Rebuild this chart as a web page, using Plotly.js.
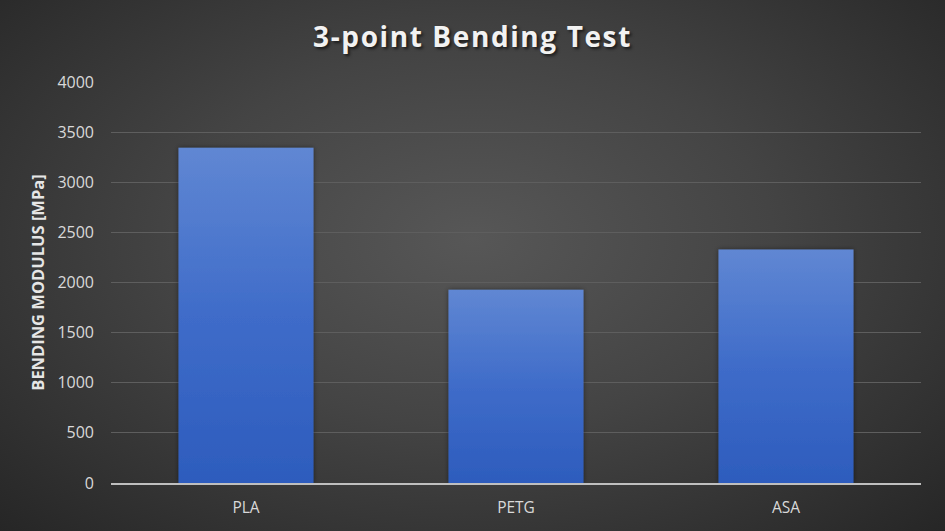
<!DOCTYPE html>
<html>
<head>
<meta charset="utf-8">
<script src="https://cdn.plot.ly/plotly-3.0.1.min.js"></script>
<style>
  html, body { margin: 0; padding: 0; }
  body {
    width: 945px; height: 531px; overflow: hidden;
    background: radial-gradient(ellipse at 50% 45%, #575757 0%, #444444 45%, #262626 100%);
  }
  #chart { width: 945px; height: 531px; }
  .gtitle { letter-spacing: 1.6px; }
</style>
</head>
<body>
<div id="chart"></div>
<script>
// materials tested and measured bending modulus (MPa)
var materials = ['PLA', 'PETG', 'ASA'];
var modulus = [3345, 1928, 2328];
var yTicks = [0, 500, 1000, 1500, 2000, 2500, 3000, 3500, 4000];

var data = [{
  type: 'bar',
  x: materials,
  y: modulus,
  marker: { color: '#4a74cc', line: { width: 0 } },
  hoverinfo: 'x+y'
}];

var layout = {
  width: 945, height: 531,
  margin: { l: 111, r: 24, t: 82, b: 48 },
  paper_bgcolor: 'rgba(0,0,0,0)',
  plot_bgcolor: 'rgba(0,0,0,0)',
  bargap: 0.5,
  showlegend: false,
  title: {
    text: '3-point Bending Test',
    x: 0.5, xanchor: 'center', y: 0.93, yanchor: 'middle',
    font: { family: '"Open Sans", Lato, sans-serif', size: 28, color: '#f2f2f2', weight: 'bold',
            shadow: '2px 2px 3px rgba(0,0,0,0.6)' }
  },
  xaxis: {
    tickfont: { family: '"Open Sans", Lato, sans-serif', size: 15.5, color: '#d9d9d9' },
    showgrid: false, showline: true, linecolor: '#bfbfbf', linewidth: 1.5,
    ticks: '', ticklabelstandoff: 10
  },
  yaxis: {
    range: [0, 4000],
    tickvals: yTicks,
    ticktext: yTicks.map(String),
    tickfont: { family: '"Open Sans", Lato, sans-serif', size: 16, color: '#d9d9d9' },
    showgrid: true, gridcolor: '#5e5e5e', gridwidth: 1,
    zeroline: false, showline: false, ticks: '',
    ticklabelstandoff: 16,
    title: {
      text: 'BENDING MODULUS [MPa]',
      font: { family: '"Open Sans", Lato, sans-serif', size: 16.5, color: '#e6e6e6', weight: 'bold' },
      standoff: 8
    }
  }
};

Plotly.newPlot('chart', data, layout, { displayModeBar: false, staticPlot: true }).then(function (gd) {
  // vertical gradient on the bars, like the Excel fill
  var svg = gd.querySelector('svg.main-svg');
  var ns = 'http://www.w3.org/2000/svg';
  var defs = svg.querySelector('defs') || svg.insertBefore(document.createElementNS(ns, 'defs'), svg.firstChild);
  var grad = document.createElementNS(ns, 'linearGradient');
  grad.setAttribute('id', 'barGrad');
  grad.setAttribute('x1', '0'); grad.setAttribute('y1', '0');
  grad.setAttribute('x2', '0'); grad.setAttribute('y2', '1');
  [['0', '#6087d3'], ['0.5', '#3f6cc9'], ['1', '#2d5cbd']].forEach(function (s) {
    var st = document.createElementNS(ns, 'stop');
    st.setAttribute('offset', s[0]); st.setAttribute('stop-color', s[1]);
    grad.appendChild(st);
  });
  defs.appendChild(grad);
  var filt = document.createElementNS(ns, 'filter');
  filt.setAttribute('id', 'barShadow');
  filt.setAttribute('x', '-10%'); filt.setAttribute('y', '-10%');
  filt.setAttribute('width', '120%'); filt.setAttribute('height', '120%');
  filt.innerHTML = '<feDropShadow dx="0" dy="0" stdDeviation="2.5" flood-color="#000" flood-opacity="0.45"/>';
  defs.appendChild(filt);
  gd.querySelectorAll('.bars .point path').forEach(function (p) {
    p.style.fill = 'url(#barGrad)';
    p.setAttribute('filter', 'url(#barShadow)');
  });
});
</script>
</body>
</html>
